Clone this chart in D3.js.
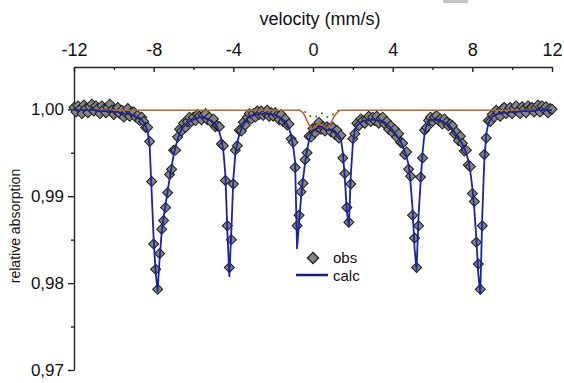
<!doctype html>
<html lang="en">
<head>
<meta charset="utf-8">
<title>Mössbauer spectrum</title>
<style>
  body { margin: 0; background: #fff; }
  svg { display: block; font-family: "Liberation Sans", Arial, sans-serif; }
</style>
</head>
<body>
<div id="chart"></div>
<script src="https://cdn.jsdelivr.net/npm/d3@7"></script>
<script>
// channels run from -12 to 12 mm/s, one every 0.1 mm/s
var velocityMin = -12, velocityStep = 0.1;

// measured points (relative absorption), one per channel
var obs = [
  1.0002, 0.9997, 1.0004, 1.0000, 0.9995, 1.0005, 1.0001, 0.9996, 1.0003, 1.0006,
  0.9998, 1.0004, 1.0001, 0.9995, 1.0004, 1.0000, 0.9996, 1.0002, 1.0006, 0.9999,
  0.9994, 0.9999, 1.0002, 0.9995, 0.9999, 0.9991, 0.9996, 1.0001, 0.9992, 0.9997,
  0.9997, 0.9991, 0.9993, 0.9987, 0.9991, 0.9986, 0.9979, 0.9979, 0.9963, 0.9917,
  0.9845, 0.9816, 0.9793, 0.9834, 0.9862, 0.9872, 0.9887, 0.9904, 0.9925, 0.9931,
  0.9953, 0.9953, 0.9968, 0.9977, 0.9975, 0.9984, 0.9979, 0.9986, 0.9991, 0.9986,
  0.9991, 0.9987, 0.9994, 0.9992, 0.9988, 0.9993, 0.9995, 0.9988, 0.9991, 0.9985,
  0.9989, 0.9980, 0.9981, 0.9980, 0.9960, 0.9958, 0.9918, 0.9866, 0.9818, 0.9850,
  0.9914, 0.9953, 0.9958, 0.9976, 0.9975, 0.9985, 0.9982, 0.9991, 0.9995, 0.9989,
  0.9995, 0.9991, 0.9998, 0.9994, 0.9998, 0.9993, 0.9996, 0.9999, 0.9992, 0.9996,
  0.9992, 0.9996, 0.9993, 0.9988, 0.9994, 0.9986, 0.9989, 0.9982, 0.9983, 0.9966,
  0.9962, 0.9933, 0.9866, 0.9878, 0.9905, 0.9915, 0.9942, 0.9950, 0.9969, 0.9968,
  0.9978, 0.9973, 0.9980, 0.9985, 0.9977, 0.9980, 0.9975, 0.9980, 0.9978, 0.9974,
  0.9979, 0.9971, 0.9976, 0.9967, 0.9970, 0.9944, 0.9926, 0.9887, 0.9870, 0.9914,
  0.9966, 0.9972, 0.9984, 0.9981, 0.9989, 0.9987, 0.9984, 0.9989, 0.9992, 0.9986,
  0.9991, 0.9987, 0.9992, 0.9984, 0.9989, 0.9991, 0.9983, 0.9986, 0.9977, 0.9981,
  0.9973, 0.9977, 0.9968, 0.9972, 0.9962, 0.9961, 0.9948, 0.9951, 0.9931, 0.9923,
  0.9878, 0.9852, 0.9818, 0.9866, 0.9922, 0.9944, 0.9976, 0.9979, 0.9987, 0.9991,
  0.9986, 0.9991, 0.9993, 0.9987, 0.9989, 0.9983, 0.9989, 0.9985, 0.9981, 0.9983,
  0.9981, 0.9972, 0.9974, 0.9964, 0.9969, 0.9961, 0.9952, 0.9953, 0.9936, 0.9934,
  0.9903, 0.9894, 0.9847, 0.9822, 0.9793, 0.9866, 0.9948, 0.9967, 0.9987, 0.9986,
  0.9994, 0.9991, 0.9999, 0.9996, 0.9992, 1.0000, 1.0002, 0.9995, 0.9999, 1.0002,
  0.9995, 1.0001, 1.0004, 0.9998, 0.9995, 1.0003, 1.0000, 0.9996, 1.0004, 1.0001,
  1.0002, 0.9997, 1.0002, 1.0005, 0.9997, 1.0004, 1.0000, 1.0003, 0.9996, 1.0001,
  1.0000
];

// fitted curve, same channels
var calc = [
  0.9999, 0.9999, 0.9999, 0.9999, 0.9999, 0.9999, 0.9999, 0.9999, 0.9999, 0.9999,
  0.9999, 0.9999, 0.9998, 0.9998, 0.9998, 0.9998, 0.9998, 0.9998, 0.9998, 0.9998,
  0.9997, 0.9997, 0.9997, 0.9996, 0.9996, 0.9995, 0.9995, 0.9995, 0.9994, 0.9994,
  0.9993, 0.9992, 0.9991, 0.9990, 0.9988, 0.9985, 0.9981, 0.9975, 0.9957, 0.9905,
  0.9850, 0.9812, 0.9791, 0.9828, 0.9858, 0.9876, 0.9891, 0.9906, 0.9920, 0.9934,
  0.9947, 0.9957, 0.9965, 0.9972, 0.9977, 0.9980, 0.9982, 0.9984, 0.9986, 0.9987,
  0.9988, 0.9989, 0.9990, 0.9991, 0.9991, 0.9991, 0.9990, 0.9989, 0.9988, 0.9987,
  0.9985, 0.9983, 0.9979, 0.9974, 0.9965, 0.9952, 0.9925, 0.9860, 0.9808, 0.9860,
  0.9920, 0.9948, 0.9962, 0.9971, 0.9977, 0.9982, 0.9986, 0.9989, 0.9991, 0.9992,
  0.9993, 0.9994, 0.9994, 0.9995, 0.9995, 0.9995, 0.9995, 0.9995, 0.9995, 0.9994,
  0.9994, 0.9993, 0.9992, 0.9991, 0.9990, 0.9988, 0.9986, 0.9983, 0.9978, 0.9970,
  0.9958, 0.9940, 0.9840, 0.9870, 0.9898, 0.9920, 0.9938, 0.9953, 0.9964, 0.9971,
  0.9975, 0.9977, 0.9978, 0.9980, 0.9980, 0.9979, 0.9977, 0.9976, 0.9976, 0.9977,
  0.9976, 0.9975, 0.9972, 0.9970, 0.9966, 0.9950, 0.9920, 0.9882, 0.9866, 0.9925,
  0.9960, 0.9976, 0.9981, 0.9983, 0.9985, 0.9986, 0.9987, 0.9987, 0.9987, 0.9988,
  0.9988, 0.9988, 0.9988, 0.9987, 0.9987, 0.9986, 0.9985, 0.9983, 0.9981, 0.9979,
  0.9976, 0.9973, 0.9970, 0.9967, 0.9963, 0.9958, 0.9952, 0.9945, 0.9936, 0.9915,
  0.9885, 0.9840, 0.9815, 0.9878, 0.9915, 0.9950, 0.9972, 0.9982, 0.9985, 0.9987,
  0.9988, 0.9988, 0.9988, 0.9988, 0.9987, 0.9986, 0.9985, 0.9984, 0.9983, 0.9980,
  0.9977, 0.9974, 0.9971, 0.9968, 0.9964, 0.9960, 0.9955, 0.9949, 0.9941, 0.9928,
  0.9910, 0.9885, 0.9852, 0.9810, 0.9788, 0.9878, 0.9940, 0.9972, 0.9983, 0.9988,
  0.9991, 0.9993, 0.9994, 0.9995, 0.9995, 0.9996, 0.9996, 0.9996, 0.9996, 0.9997,
  0.9997, 0.9997, 0.9997, 0.9997, 0.9998, 0.9998, 0.9998, 0.9998, 0.9998, 0.9998,
  0.9998, 0.9998, 0.9999, 0.9999, 0.9999, 0.9999, 0.9999, 0.9999, 0.9999, 0.9999,
  0.9999
];

// paramagnetic doublet sub-spectrum (brown line)
var doubletVelocity = [-12, -0.7, -0.6, -0.5, -0.4, -0.3, -0.2, -0.1, 0.0, 0.1, 0.2, 0.3,
  0.4, 0.5, 0.6, 0.7, 0.8, 0.9, 1.0, 1.1, 1.2, 1.3, 1.4, 12];
var doublet = [0.9999, 0.9999, 0.9998, 0.9996, 0.9992, 0.9987, 0.9982, 0.9979, 0.9978, 0.9980, 0.9982, 0.9983,
  0.9982, 0.9981, 0.9979, 0.9978, 0.9980, 0.9984, 0.9989, 0.9993, 0.9996, 0.9998, 0.9999, 0.9999];

// weak component (dotted green)
var minorVelocity = [-0.7, -0.4, -0.2, 0.0, 0.1, 0.3, 0.45, 0.6, 0.75, 0.9, 1.1, 1.3];
var minor = [0.9999, 0.9997, 0.9993, 0.9991, 0.9991, 0.9994, 0.99955, 0.9993, 0.9991, 0.9992, 0.9996, 0.9999];

var xTicks = [-12, -8, -4, 0, 4, 8, 12];
var xMinorTicks = [-10, -6, -2, 2, 6, 10];
var yTicks = [0.97, 0.98, 0.99, 1.00];
var yMinorTicks = [0.975, 0.985, 0.995];

if (obs.length !== calc.length) throw new Error("obs/calc length mismatch " + obs.length + " " + calc.length);

var velocity = obs.map(function(d, i) { return velocityMin + i * velocityStep; });

var width = 564, height = 383;
var svg = d3.select("#chart").append("svg")
    .attr("width", width)
    .attr("height", height);

var x = d3.scaleLinear().domain([-12, 12]).range([74, 552]);
var y = d3.scaleLinear().domain([0.97, 1.00487]).range([370, 67]);

var comma = function(d) { return d3.format(".2f")(d).replace(".", ","); };
var plain = function(d) { return String(d); };   // keep the ascii hyphen

// top velocity axis, ticks point into the plot
var xAxis = svg.append("g")
    .attr("transform", "translate(0," + y.range()[1] + ")")
    .call(d3.axisTop(x).tickValues(xTicks).tickSizeInner(-5).tickSizeOuter(0).tickPadding(11).tickFormat(plain));
svg.append("g")
    .attr("transform", "translate(0," + y.range()[1] + ")")
    .call(d3.axisTop(x).tickValues(xMinorTicks).tickSize(-3).tickFormat(""))
    .call(function(g) { g.select(".domain").remove(); });

var yAxis = svg.append("g")
    .attr("transform", "translate(" + x.range()[0] + ",0)")
    .call(d3.axisLeft(y).tickValues(yTicks).tickSizeInner(6).tickSizeOuter(0).tickPadding(4).tickFormat(comma));
svg.append("g")
    .attr("transform", "translate(" + x.range()[0] + ",0)")
    .call(d3.axisLeft(y).tickValues(yMinorTicks).tickSize(3).tickFormat(""))
    .call(function(g) { g.select(".domain").remove(); });

svg.selectAll(".domain, .tick line").attr("stroke", "#222").attr("stroke-width", 1.4);
xAxis.selectAll("text").attr("font-size", 18).attr("fill", "#111").attr("font-family", null);
yAxis.selectAll("text").attr("font-size", 17).attr("fill", "#111").attr("font-family", null);

svg.append("text")
    .attr("x", 320).attr("y", 25)
    .attr("text-anchor", "middle")
    .attr("font-size", 18)
    .attr("fill", "#111")
    .text("velocity (mm/s)");

svg.append("text")
    .attr("transform", "translate(20,226) rotate(-90)")
    .attr("text-anchor", "middle")
    .attr("font-size", 14)
    .attr("fill", "#111")
    .text("relative absorption");

// observed points
var diamond = d3.symbol().type(d3.symbolSquare).size(50);
svg.append("g").selectAll("path")
  .data(obs)
  .join("path")
    .attr("d", diamond)
    .attr("transform", function(d, i) { return "translate(" + x(velocity[i]) + "," + y(d) + ") rotate(45)"; })
    .attr("fill", "#858585")
    .attr("stroke", "#1a1a1a")
    .attr("stroke-width", 1);

// sub-spectra
svg.append("path")
    .datum(minor)
    .attr("fill", "none")
    .attr("stroke", "#356b3a")
    .attr("stroke-width", 2)
    .attr("stroke-linecap", "round")
    .attr("stroke-dasharray", "0,6.5")
    .attr("d", d3.line()
      .x(function(d, i) { return x(minorVelocity[i]); })
      .y(function(d) { return y(d); })
      .curve(d3.curveMonotoneX));

svg.append("path")
    .datum(doublet)
    .attr("fill", "none")
    .attr("stroke", "#b8692a")
    .attr("stroke-width", 1.6)
    .attr("d", d3.line()
      .x(function(d, i) { return x(doubletVelocity[i]); })
      .y(function(d) { return y(d); })
      .curve(d3.curveMonotoneX));

// fitted curve
svg.append("path")
    .datum(calc)
    .attr("fill", "none")
    .attr("stroke", "#1a22a6")
    .attr("stroke-width", 1.8)
    .attr("stroke-linejoin", "round")
    .attr("d", d3.line()
      .x(function(d, i) { return x(velocity[i]); })
      .y(function(d) { return y(d); }));

// legend
var legend = svg.append("g");
legend.append("path")
    .attr("d", d3.symbol().type(d3.symbolSquare).size(64))
    .attr("transform", "translate(313,258) rotate(45)")
    .attr("fill", "#858585")
    .attr("stroke", "#1a1a1a")
    .attr("stroke-width", 1.2);
legend.append("line")
    .attr("x1", 296).attr("x2", 328)
    .attr("y1", 275).attr("y2", 275)
    .attr("stroke", "#161a86")
    .attr("stroke-width", 2.5);
legend.selectAll("text")
  .data(["obs", "calc"])
  .join("text")
    .attr("x", 333)
    .attr("y", function(d, i) { return 263 + i * 18; })
    .attr("font-size", 15)
    .attr("fill", "#111")
    .text(function(d) { return d; });

// small grey scrap at the top edge of the original scan
svg.append("rect")
    .attr("x", 443).attr("y", 0)
    .attr("width", 25).attr("height", 3)
    .attr("fill", "#c4c4c4");
</script>
</body>
</html>
